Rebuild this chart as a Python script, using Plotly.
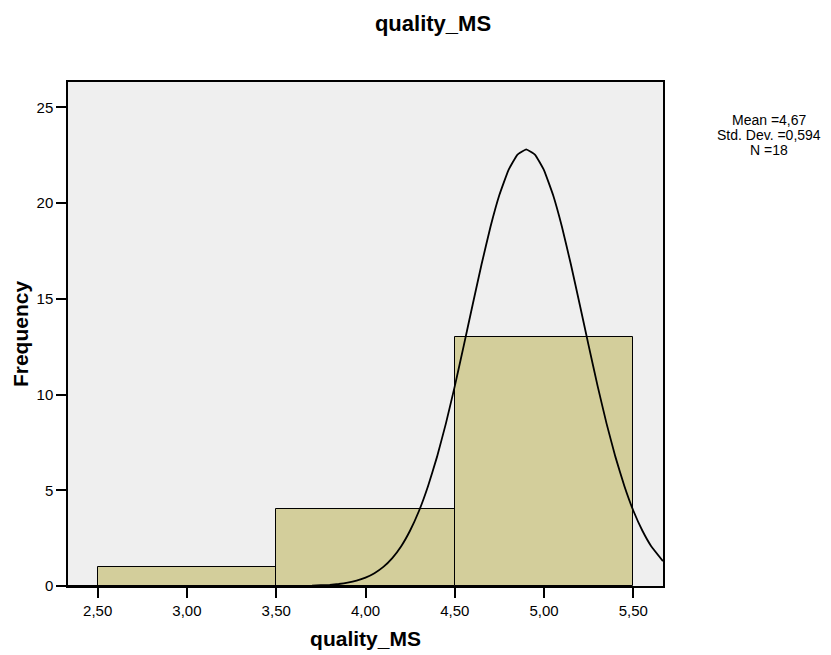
import plotly.graph_objects as go

# Histogram bins (centres), frequencies
bin_centers = [3.0, 4.0, 5.0]
bin_width = 1.0
frequencies = [1, 4, 13]

# Normal curve
curve_x = [2.334, 3.3, 3.5, 3.7, 3.8, 3.85, 3.9, 3.95, 4.0, 4.05, 4.1, 4.15, 4.2, 4.25, 4.3, 4.35, 4.4, 4.45,
           4.5, 4.55, 4.6, 4.65, 4.7, 4.75, 4.8, 4.85, 4.9, 4.95, 5.0, 5.05, 5.1, 5.15, 5.2, 5.25, 5.3,
           5.35, 5.4, 5.45, 5.5, 5.55, 5.6, 5.666]
curve_y = [0.0, 0.0, 0.002, 0.02, 0.062, 0.105, 0.173, 0.278, 0.437, 0.670, 1.00, 1.46, 2.08, 2.90, 3.93, 5.21, 6.73, 8.48,
           10.44, 12.54, 14.69, 16.80, 18.76, 20.43, 21.71, 22.52, 22.8, 22.52, 21.71, 20.43, 18.76, 16.80, 14.69, 12.54, 10.44,
           8.48, 6.73, 5.21, 3.93, 2.90, 2.08, 1.30]

x_tickvals = [2.5, 3.0, 3.5, 4.0, 4.5, 5.0, 5.5]
x_ticktext = ["2,50", "3,00", "3,50", "4,00", "4,50", "5,00", "5,50"]
y_tickvals = [0, 5, 10, 15, 20, 25]

stats_lines = ["Mean =4,67", "Std. Dev. =0,594", "N =18"]

FONT = "Liberation Sans, Arial, sans-serif"

fig = go.Figure()
fig.add_trace(go.Bar(
    x=bin_centers, y=frequencies, width=[bin_width] * len(bin_centers),
    marker=dict(color="#D3CE9B", line=dict(color="black", width=1)),
    showlegend=False, hoverinfo="skip",
))
fig.add_trace(go.Scatter(
    x=curve_x, y=curve_y, mode="lines", line=dict(color="black", width=1.8, shape="spline", smoothing=0.3),
    showlegend=False, hoverinfo="skip", cliponaxis=True,
))

for i, txt in enumerate(stats_lines):
    fig.add_annotation(
        text=txt, xref="paper", yref="paper", x=(769 - 68) / (663 - 68), y=(586 - (120 + 15 * i)) / (586 - 82),
        xanchor="center", yanchor="middle", showarrow=False,
        font=dict(family=FONT, size=14, color="black"),
    )

fig.update_layout(
    width=831, height=655,
    margin=dict(l=68, r=168, t=82, b=69, autoexpand=False),
    paper_bgcolor="white", plot_bgcolor="#EFEFEF",
    bargap=0,
    title=dict(text="<b>quality_MS</b>", x=433 / 831, xref="container", xanchor="center",
               y=1 - 23 / 655, yref="container", yanchor="middle",
               font=dict(family=FONT, size=22, color="black")),
    font=dict(family=FONT, color="black"),
)
fig.update_xaxes(
    range=[2.334, 5.666], tickvals=x_tickvals, ticktext=x_ticktext,
    ticks="outside", ticklen=10, tickwidth=1.5, tickcolor="black",
    showline=True, linecolor="black", linewidth=1.5, mirror=True,
    showgrid=False, zeroline=False, automargin=False,
    tickfont=dict(family=FONT, size=15, color="black"),
    title=dict(text="<b>quality_MS</b>", font=dict(family=FONT, size=21, color="black"), standoff=14),
)
fig.update_yaxes(
    range=[0, 26.32], tickvals=y_tickvals,
    ticks="outside", ticklen=10, tickwidth=1.5, tickcolor="black",
    showline=True, linecolor="black", linewidth=1.5, mirror=True,
    showgrid=False, zeroline=False, automargin=False,
    tickfont=dict(family=FONT, size=15, color="black"),
    title=dict(text="<b>Frequency</b>", font=dict(family=FONT, size=21, color="black"), standoff=2),
)

fig.write_html("out.html", config={"displayModeBar": False},
               post_script="document.body.style.margin='0';")
